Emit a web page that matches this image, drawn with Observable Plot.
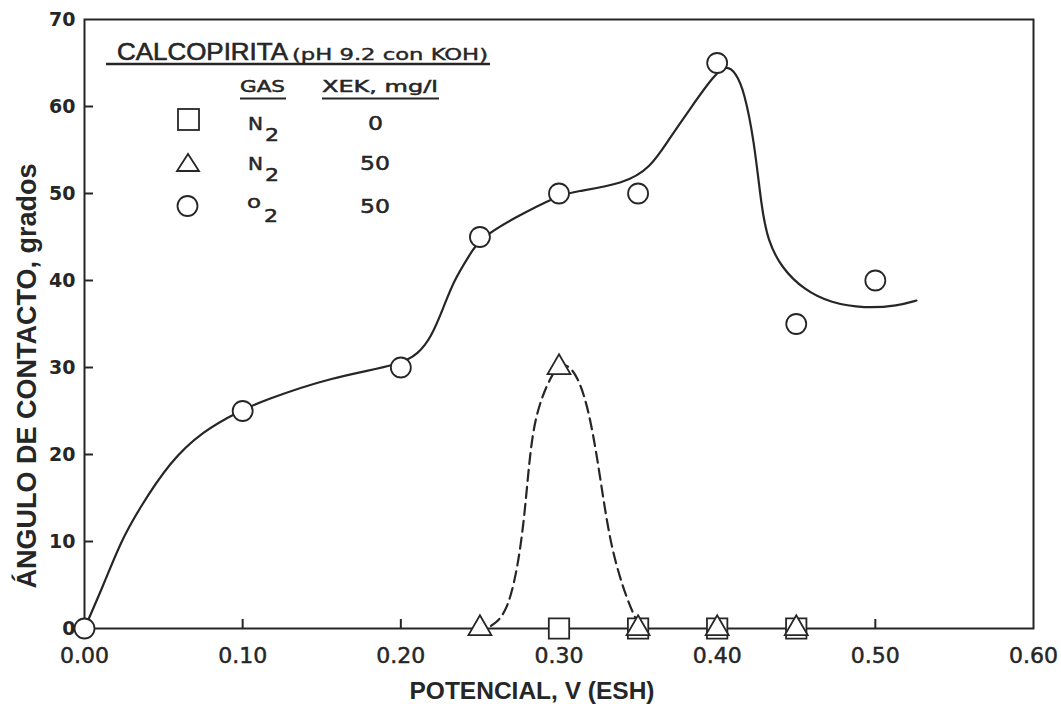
<!DOCTYPE html>
<html>
<head>
<meta charset="utf-8">
<script src="https://cdn.jsdelivr.net/npm/d3@7"></script>
<script src="https://cdn.jsdelivr.net/npm/@observablehq/plot@0.6"></script>
<style>
  html, body { margin: 0; padding: 0; background: #fff; }
  #wrap { position: relative; width: 1061px; height: 704px; }
  #legend { position: absolute; left: 0; top: 0; pointer-events: none; }
</style>
</head>
<body>
<div id="wrap"></div>
<script>
// ---- data ----
const o2X = [0.00, 0.10, 0.20, 0.25, 0.30, 0.35, 0.40, 0.45, 0.50];
const o2Y = [0, 25, 30, 45, 50, 50, 65, 35, 40];
const n2xekX = [0.25, 0.30, 0.35, 0.40, 0.45];
const n2xekY = [0, 30, 0, 0, 0];
const n2X = [0.30, 0.35, 0.40, 0.45];
const n2Y = [0, 0, 0, 0];
// hand-drawn fitted curves
const o2CurveX = [0.000, 0.012, 0.023, 0.034, 0.054, 0.075, 0.097, 0.113, 0.156, 0.200, 0.211, 0.219, 0.227, 0.2335, 0.244, 0.250, 0.2715, 0.300, 0.3095, 0.341, 0.358, 0.369, 0.3835, 0.398, 0.406, 0.412, 0.417, 0.4234, 0.428, 0.432, 0.4405, 0.455, 0.472, 0.493, 0.5146, 0.526];
const o2CurveY = [0, 5, 10, 13.6, 19.2, 22.7, 24.9, 26.2, 28.9, 30.3, 31.6, 33.4, 36.9, 40, 43.1, 44.8, 47.2, 49.8, 50.2, 51.1, 53, 56.1, 59.9, 63.6, 64.8, 63.8, 61.8, 56.1, 48.4, 44.6, 41.5, 38.9, 37.4, 36.8, 37.1, 37.7];
const n2CurveX = [0.257, 0.2677, 0.276, 0.280, 0.284, 0.295, 0.3025, 0.312, 0.320, 0.3266, 0.333, 0.3437, 0.350];
const n2CurveY = [0.3, 1.7, 9, 16.7, 24.3, 29.2, 30.8, 29.2, 24.3, 16.7, 9, 2.9, 0.6];
const xTicks = [0, 0.1, 0.2, 0.3, 0.4, 0.5, 0.6];
const yTicks = [0, 10, 20, 30, 40, 50, 60, 70];
const xLabel = "POTENCIAL, V (ESH)";
const yLabel = "ÁNGULO DE CONTACTO, grados";

const toRows = (xs, ys) => xs.map((x, i) => ({x, y: ys[i]}));
const o2 = toRows(o2X, o2Y);
const n2xek = toRows(n2xekX, n2xekY);
const n2 = toRows(n2X, n2Y);
const o2Curve = toRows(o2CurveX, o2CurveY);
const n2Curve = toRows(n2CurveX, n2CurveY);

const ink = "#262626";
const sans = "'Liberation Sans', Arial, sans-serif";
const wide = "'DejaVu Sans', sans-serif";
const W = 1061, H = 704, ML = 84, MR = 28, MT = 19, MB = 76, TICK = 9;

const chart = Plot.plot({
  width: W,
  height: H,
  marginLeft: ML,
  marginRight: MR,
  marginTop: MT,
  marginBottom: MB,
  style: {background: "#fff", color: ink, fontFamily: sans},
  x: {domain: [0, 0.6]},
  y: {domain: [0, 70]},
  marks: [
    Plot.frame({stroke: ink, strokeWidth: 2}),
    // inward tick marks (short ticks drawn from the frame edge)
    Plot.tickX(xTicks.slice(1, -1), {x: d => d, insetTop: H - MT - MB - TICK, stroke: ink, strokeWidth: 2}),
    Plot.tickY(yTicks.slice(1, -1), {y: d => d, insetRight: W - ML - MR - TICK, stroke: ink, strokeWidth: 2}),
    // tick labels
    Plot.axisX({ticks: xTicks, tickSize: 0, tickPadding: 19, tickFormat: d3.format(".2f"), label: null,
      fontSize: 22, fontFamily: wide, fill: ink, textStroke: ink, textStrokeWidth: 0.5}),
    Plot.axisY({ticks: yTicks, tickSize: 0, tickPadding: 9, tickFormat: d3.format("d"), label: null,
      fontSize: 19, fontWeight: "bold", fontFamily: wide, fill: ink}),
    // axis titles
    Plot.text([xLabel], {text: d => d, frameAnchor: "bottom", textAnchor: "middle", lineAnchor: "bottom",
      dx: -27, dy: 70, fontSize: 24.5, fontWeight: "bold", fontFamily: sans, fill: ink}),
    Plot.text([yLabel], {text: d => d, frameAnchor: "left", textAnchor: "middle", lineAnchor: "bottom",
      rotate: -90, dx: -49, dy: 52, fontSize: 27, fontWeight: "bold", fontFamily: sans, fill: ink}),
    // fitted curves
    Plot.line(o2Curve, {x: "x", y: "y", curve: "basis", stroke: ink, strokeWidth: 2.2}),
    Plot.line(n2Curve, {x: "x", y: "y", curve: "basis", stroke: ink, strokeWidth: 2.2, strokeDasharray: "11,6"}),
    // measured points
    Plot.dot(n2, {x: "x", y: "y", symbol: "square", r: 11.5, fill: "#fff", stroke: ink, strokeWidth: 1.8}),
    Plot.dot(n2xek, {x: "x", y: "y", symbol: "triangle", r: 8.5, fill: "#fff", stroke: ink, strokeWidth: 1.8}),
    Plot.dot(o2, {x: "x", y: "y", symbol: "circle", r: 10, fill: "#fff", stroke: ink, strokeWidth: 1.8})
  ]
});

const wrap = document.getElementById("wrap");
wrap.appendChild(chart);

// ---- legend (inset table, top-left) ----
const NS = "http://www.w3.org/2000/svg";
const leg = document.createElementNS(NS, "svg");
leg.setAttribute("id", "legend");
leg.setAttribute("width", W);
leg.setAttribute("height", H);
function t(str, x, y, size, family, len, sw = 0.5) {
  const e = document.createElementNS(NS, "text");
  e.textContent = str;
  e.setAttribute("x", x); e.setAttribute("y", y);
  e.setAttribute("font-size", size); e.setAttribute("font-family", family);
  e.setAttribute("fill", ink);
  e.setAttribute("stroke", ink); e.setAttribute("stroke-width", sw);
  if (len) { e.setAttribute("textLength", len); e.setAttribute("lengthAdjust", "spacingAndGlyphs"); }
  leg.appendChild(e);
}
function ln(x1, y1, x2, y2, w) {
  const e = document.createElementNS(NS, "line");
  e.setAttribute("x1", x1); e.setAttribute("y1", y1); e.setAttribute("x2", x2); e.setAttribute("y2", y2);
  e.setAttribute("stroke", ink); e.setAttribute("stroke-width", w);
  leg.appendChild(e);
}
function shape(tag, attrs) {
  const e = document.createElementNS(NS, tag);
  for (const k in attrs) e.setAttribute(k, attrs[k]);
  e.setAttribute("fill", "#fff"); e.setAttribute("stroke", ink); e.setAttribute("stroke-width", 1.8);
  leg.appendChild(e);
}
const legendTitle = "CALCOPIRITA";
const legendSub = "(pH 9.2 con KOH)";
const legendHead = ["GAS", "XEK, mg/l"];
const legendGas = ["N", "N", "o"];
const legendXek = ["0", "50", "50"];

t(legendTitle, 117, 60, 23.5, sans, 171, 0.6);
t(legendSub, 292, 60, 16, wide, 196, 0.4);
ln(106, 64, 490, 64, 2.4);
t(legendHead[0], 240, 92, 16, wide, 45);
t(legendHead[1], 322, 92, 16, wide, 116);
ln(240, 98.5, 286, 98.5, 2);
ln(322, 98.5, 439, 98.5, 2);
shape("rect", {x: 178, y: 109, width: 21, height: 21});
shape("polygon", {points: "177,171 199,171 188,154"});
shape("circle", {cx: 187.5, cy: 206, r: 10});
t(legendGas[0], 248, 130, 18, wide, 15);
t("2", 265, 141, 17, wide, 14);
t(legendGas[1], 248, 170, 18, wide, 15);
t("2", 265, 181, 17, wide, 14);
t(legendGas[2], 247, 208, 18, wide, 14);
t("2", 264, 222, 17, wide, 14);
t(legendXek[0], 368, 130, 19, wide, 15);
t(legendXek[1], 360, 170, 19, wide, 30);
t(legendXek[2], 360, 213, 19, wide, 30);
wrap.appendChild(leg);
</script>
</body>
</html>
